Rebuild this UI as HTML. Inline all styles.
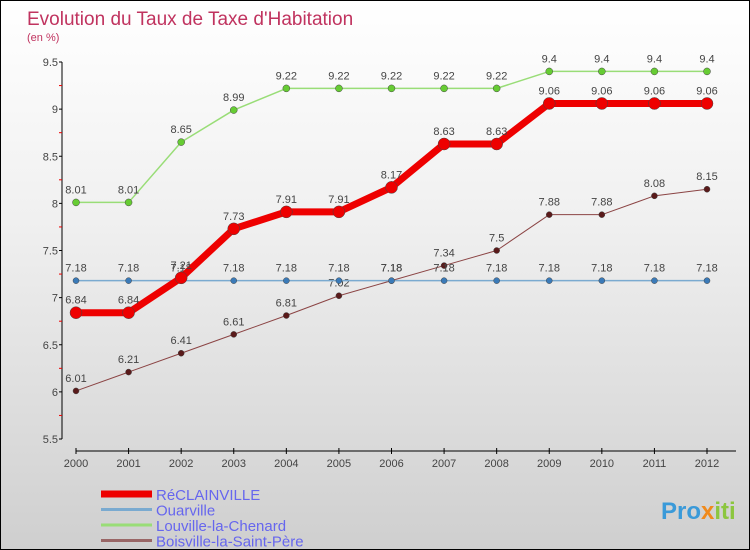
<!DOCTYPE html>
<html><head><meta charset="utf-8"><style>
body{margin:0;}
#c{width:748px;height:548px;border:1px solid #000;position:relative;background:linear-gradient(#ffffff 0%,#f0f0f0 40%,#cfcfcf 100%);font-family:"Liberation Sans",sans-serif;overflow:hidden}
svg text{font-family:"Liberation Sans",sans-serif}
</style></head><body>
<div id="c">
<svg id="s" width="748" height="548">
<text x="26" y="24" font-size="19" fill="#c0335f">Evolution du Taux de Taxe d'Habitation</text>
<text x="26" y="40" font-size="11" fill="#c0335f">(en %)</text>
<g id="g"></g>
<text x="660" y="518" font-size="24" font-weight="bold" fill="#3a9ad9">Pro<tspan fill="#f08a1c">x</tspan><tspan fill="#8cc63f">iti</tspan></text>
</svg></div>
<script>
const years=[2000,2001,2002,2003,2004,2005,2006,2007,2008,2009,2010,2011,2012];
const yTicks=[5.5,6,6.5,7,7.5,8,8.5,9,9.5];
const reclainville=[6.84,6.84,7.21,7.73,7.91,7.91,8.17,8.63,8.63,9.06,9.06,9.06,9.06];
const ouarville=[7.18,7.18,7.18,7.18,7.18,7.18,7.18,7.18,7.18,7.18,7.18,7.18,7.18];
const louville=[8.01,8.01,8.65,8.99,9.22,9.22,9.22,9.22,9.22,9.4,9.4,9.4,9.4];
const boisville=[6.01,6.21,6.41,6.61,6.81,7.02,7.18,7.34,7.5,7.88,7.88,8.08,8.15];
const seriesNames=["RéCLAINVILLE","Ouarville","Louville-la-Chenard","Boisville-la-Saint-Père"];
const NS="http://www.w3.org/2000/svg";
const g=document.getElementById('g');
function X(i){return 75+i*(706-75)/(years.length-1);}
function Y(v){return 438-(v-5.5)*(438-61)/4;}
function mk(t,a,p){const e=document.createElementNS(NS,t);for(const k in a)e.setAttribute(k,a[k]);(p||g).appendChild(e);return e;}
// axes
let ya=mk('line',{x1:61,y1:61,x2:61,y2:438,stroke:'#000'});


yTicks.forEach((v,i)=>{
 mk('line',{x1:58,y1:Y(v),x2:61,y2:Y(v),stroke:'#000'});
 if(i<yTicks.length-1)mk('line',{x1:58,y1:Y(v+0.25),x2:61,y2:Y(v+0.25),stroke:'#e00'});
 let t=mk('text',{x:57,y:Y(v)+4,'font-size':11,fill:'#444','text-anchor':'end'});t.textContent=v;
 
 
});
let xa=mk('line',{x1:75,y1:450,x2:735,y2:450,stroke:'#000'});


years.forEach((y,i)=>{
 mk('line',{x1:X(i),y1:447,x2:X(i),y2:453,stroke:'#000'});
 let t=mk('text',{x:X(i),y:466,'font-size':11,fill:'#444','text-anchor':'middle'});t.textContent=y;
 
 
});
function series(d,col,w,r,dot,name){
 let p=mk('polyline',{points:d.map((v,i)=>X(i)+','+Y(v)).join(' '),fill:'none',stroke:col,'stroke-width':w,'stroke-linejoin':'round'});
 
 
 d.forEach((v,i)=>{
  let c=mk('circle',{cx:X(i),cy:Y(v),r:r,fill:dot,stroke:'#444','stroke-width':0.5});
  
  
  let t=mk('text',{x:X(i),y:Y(v)-9,'font-size':11,fill:'#444','text-anchor':'middle'});t.textContent=v;
  
  
 });
}
series(boisville,'#8b4444',1,3,'#5a1a1a','boisville');
series(ouarville,'#7aaad0',1.5,3,'#3a7ab8','ouarville');
series(louville,'#99dd77',1.5,3.5,'#66cc33','louville');
series(reclainville,'#ee0000',7,6,'#ee0000','reclainville');
const cols=['#ee0000','#7aaad0','#99dd77','#996666'],ws=[7,3,3,3];
seriesNames.forEach((n,i)=>{
 const y=493+i*15.5;
 let l=mk('line',{x1:100,y1:y,x2:151,y2:y,stroke:cols[i],'stroke-width':ws[i]});
 
 
 let t=mk('text',{x:155,y:y+6,'font-size':15,fill:'#6666ee'});t.textContent=n;
 
 
});
</script>
</body></html>
